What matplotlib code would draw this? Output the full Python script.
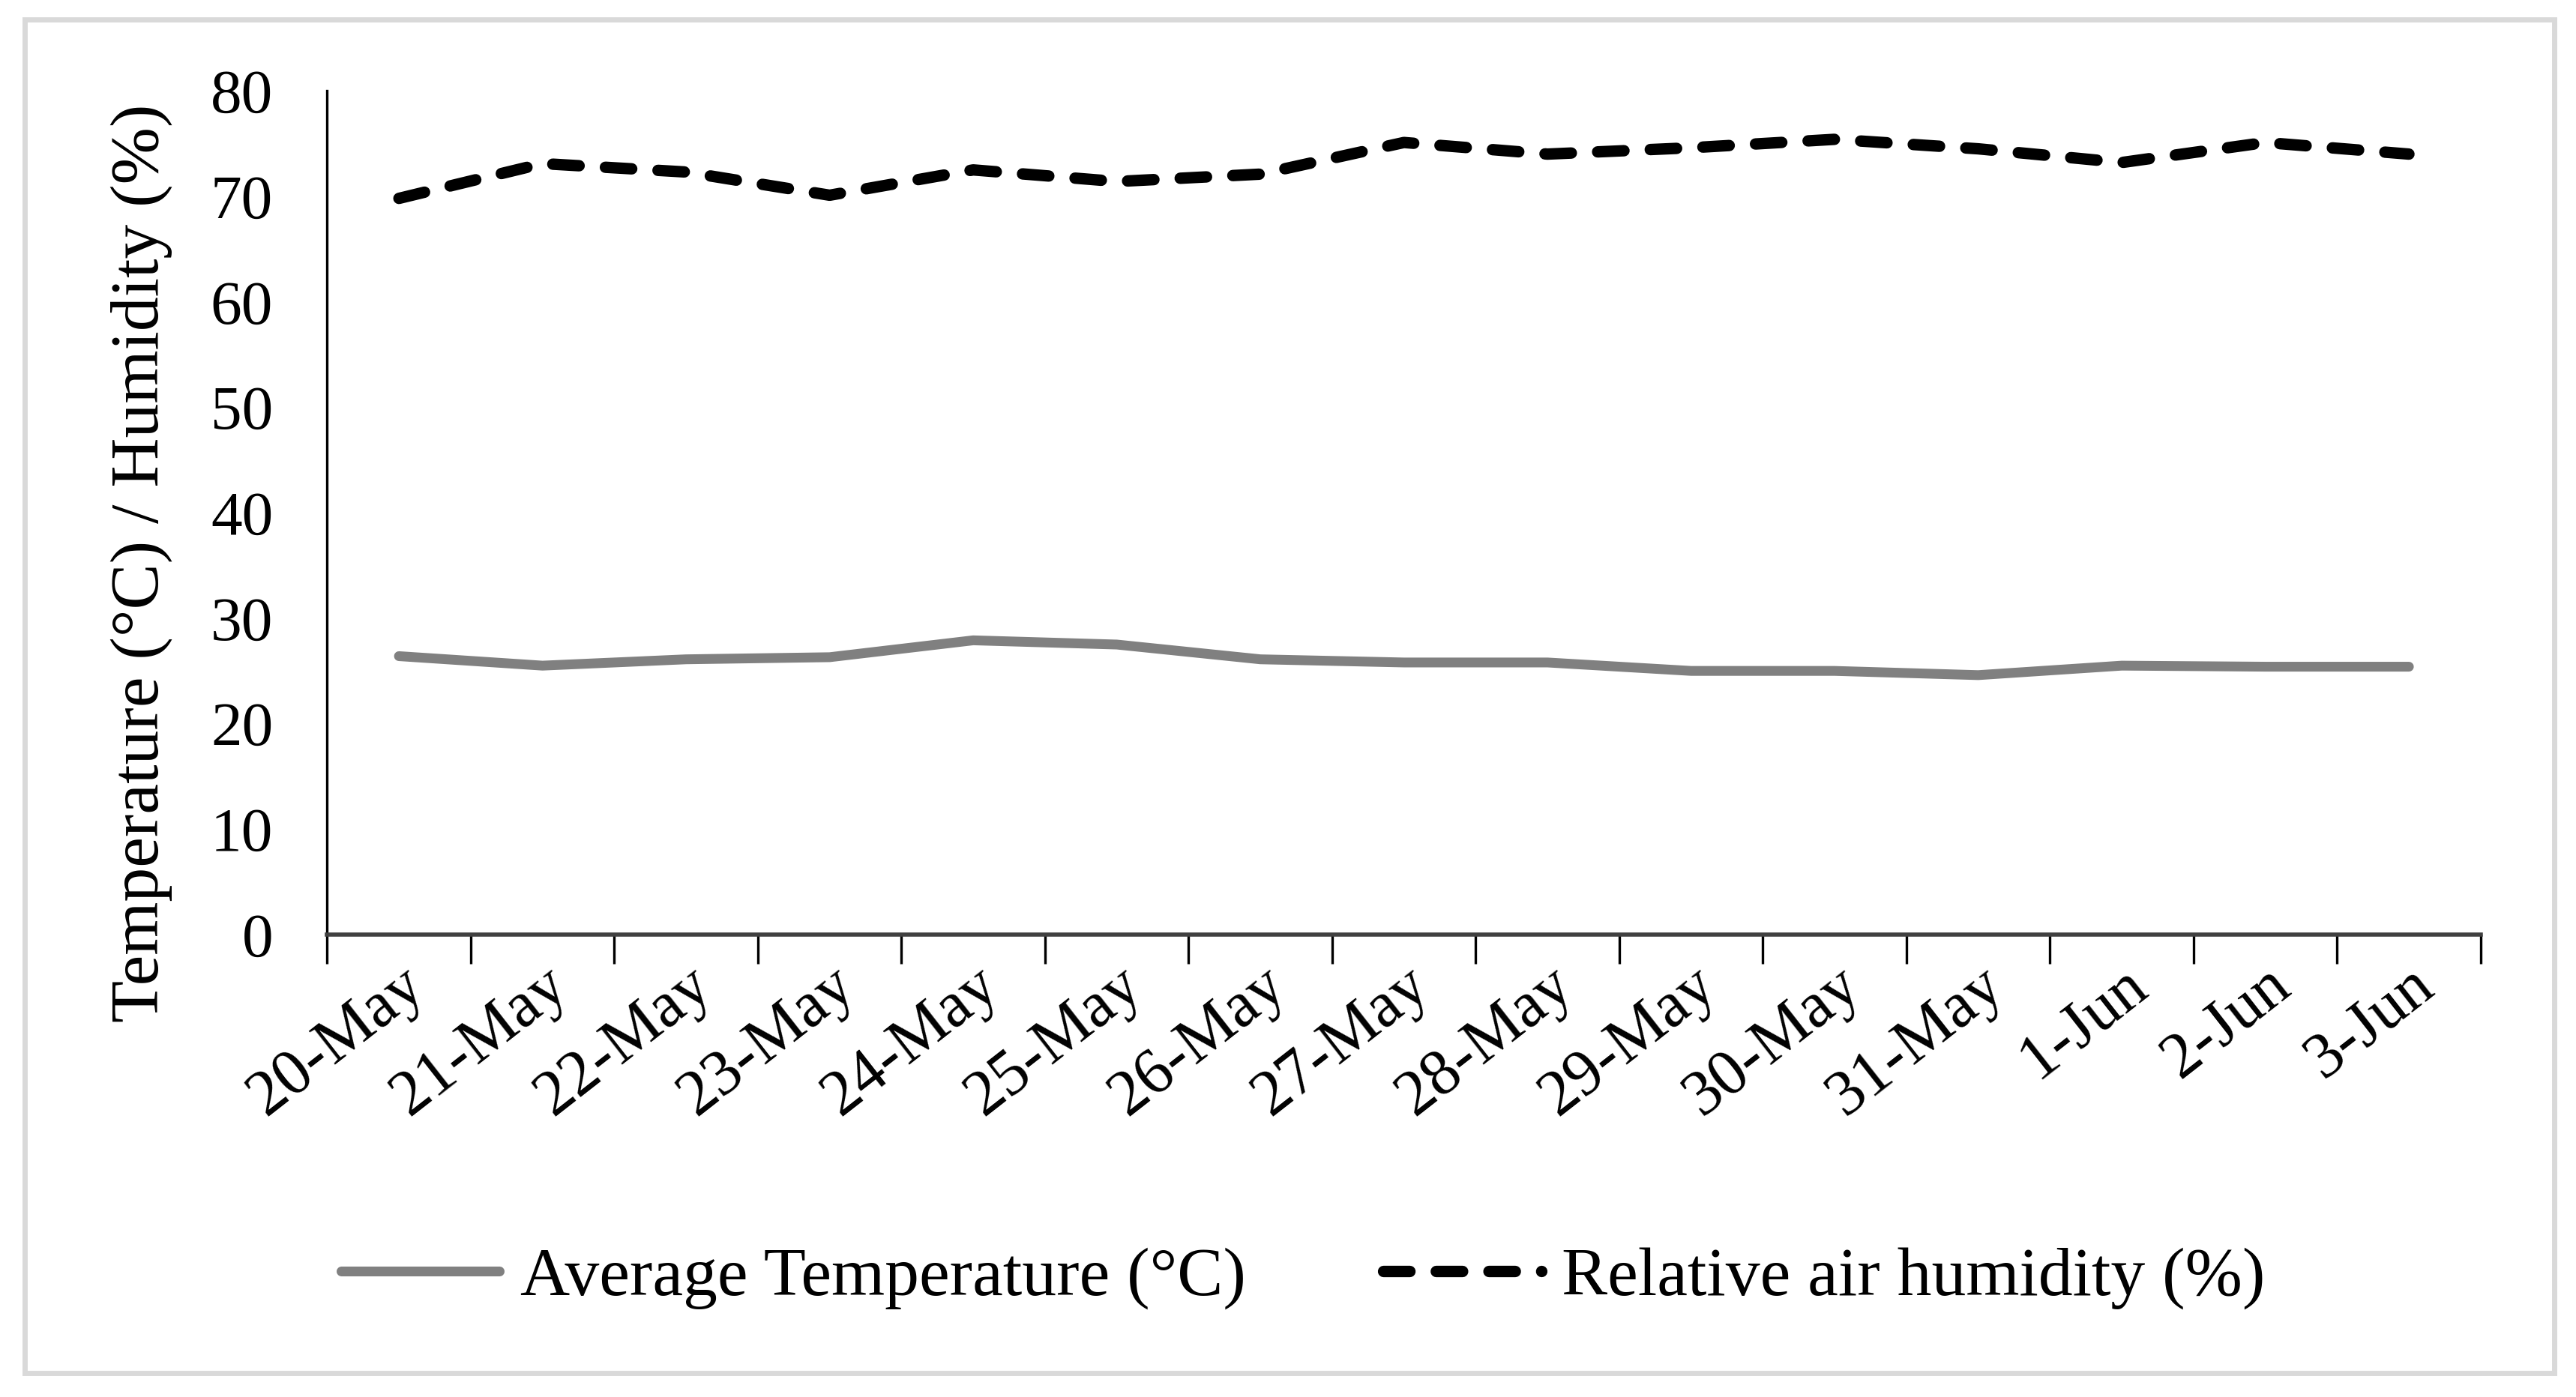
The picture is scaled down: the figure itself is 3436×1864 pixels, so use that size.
import matplotlib.pyplot as plt
from matplotlib.patches import Rectangle

# Daten
tage = ["20-May", "21-May", "22-May", "23-May", "24-May", "25-May", "26-May",
        "27-May", "28-May", "29-May", "30-May", "31-May", "1-Jun", "2-Jun", "3-Jun"]
temperatur = [26.4, 25.5, 26.1, 26.3, 27.9, 27.5, 26.1, 25.8, 25.8, 25.0,
              25.0, 24.6, 25.5, 25.4, 25.4]
feuchte = [69.8, 73.1, 72.3, 70.1, 72.5, 71.4, 72.1, 75.1, 74.0, 74.6,
           75.4, 74.5, 73.2, 75.1, 74.0]

plt.rcParams['font.family'] = ['Liberation Serif', 'DejaVu Serif']

fig = plt.figure(figsize=(17.18, 9.32), dpi=200)
ax = fig.add_axes([0.127, 0.331, 0.836, 0.604])

# Rahmen um die ganze Grafik
fig.patches.append(Rectangle((0.0096, 0.017), 0.982, 0.969, transform=fig.transFigure,
                             fill=False, edgecolor='#d9d9d9', linewidth=2.5))

x = list(range(len(tage)))
ax.plot(x, temperatur, color='#808080', linewidth=4.7, solid_capstyle='round',
        label="Average Temperature (°C)")
ax.plot(x, feuchte, color='black', linewidth=5.5, linestyle=(0, (2.3, 2.3)),
        dash_capstyle='round', label="Relative air humidity (%)")

ax.set_xlim(-0.5, len(tage) - 0.5)
ax.set_ylim(0, 80)
ax.set_yticks(range(0, 81, 10))
ax.set_xticks(x)
ax.set_xticklabels(tage, rotation=38, ha='right', va='top', rotation_mode='anchor')
ax.set_xticks([i - 0.5 for i in range(len(tage) + 1)], minor=True)

ax.tick_params(axis='y', length=0, pad=26, labelsize=30)
ax.tick_params(axis='x', which='major', length=0, pad=10, labelsize=31)
ax.tick_params(axis='x', which='minor', length=14, width=1.2, color='black')

for s in ['top', 'right']:
    ax.spines[s].set_visible(False)
ax.spines['left'].set_linewidth(1.2)
ax.spines['bottom'].set_linewidth(2.0)
ax.spines['bottom'].set_color('#404040')

ax.set_ylabel("Temperature (°C) / Humidity (%)", fontsize=33, labelpad=8)
ax.yaxis.set_label_coords(-0.072, 0.44)

fig.legend(loc='center', bbox_to_anchor=(0.506, 0.085), ncol=2, frameon=False,
           fontsize=33, handlelength=2.3, columnspacing=2.0, handletextpad=0.3)

fig.savefig("out.png", dpi=200, facecolor='white')
